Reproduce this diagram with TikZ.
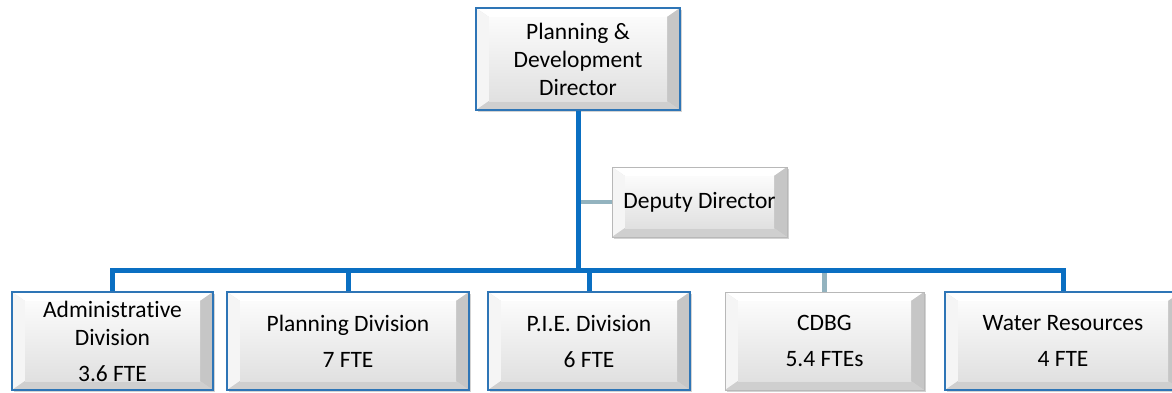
\documentclass[tikz,border=0pt]{standalone}
\usepackage{fontspec}
\setmainfont[Ligatures=NoCommon]{Carlito}
\usetikzlibrary{shadows}
\definecolor{linkblue}{HTML}{0A6FC2}
\definecolor{boxblue}{HTML}{2E75B6}
\definecolor{sublink}{HTML}{93B3BF}
\definecolor{boxgray}{HTML}{B8B8B8}
\newcommand{\boxfont}{\fontsize{23.5}{28}\selectfont}
\tikzset{
  bevel/.style={
    path picture={
      \coordinate (bnw) at (path picture bounding box.north west);
      \coordinate (bne) at (path picture bounding box.north east);
      \coordinate (bsw) at (path picture bounding box.south west);
      \coordinate (bse) at (path picture bounding box.south east);
      \fill[gray!30] (bnw) rectangle (bse);
      \fill[white] (bnw) -- (bne) -- ([shift={(-13pt,-9pt)}]bne) -- ([shift={(13pt,-9pt)}]bnw) -- cycle;
      \fill[gray!8] (bnw) -- ([shift={(13pt,-9pt)}]bnw) -- ([shift={(13pt,9pt)}]bsw) -- (bsw) -- cycle;
      \fill[gray!45] (bne) -- (bse) -- ([shift={(-13pt,9pt)}]bse) -- ([shift={(-13pt,-9pt)}]bne) -- cycle;
      \fill[gray!38] (bsw) -- (bse) -- ([shift={(-13pt,9pt)}]bse) -- ([shift={(13pt,9pt)}]bsw) -- cycle;
      \shade[top color=gray!3, bottom color=gray!24] ([shift={(13pt,-9pt)}]bnw) rectangle ([shift={(-13pt,9pt)}]bse);
    }
  },
  orgbox/.style={bevel, draw=boxblue, line width=1.6pt, inner sep=0pt, align=center,
    font=\boxfont, drop shadow={opacity=0.35, shadow xshift=2pt, shadow yshift=-2pt}},
  greybox/.style={orgbox, draw=boxgray, line width=1pt},
  mainline/.style={draw=linkblue, line width=5pt},
  subline/.style={draw=sublink, line width=4.5pt}
}
\begin{document}
\begin{tikzpicture}[x=1pt,y=-1pt]
\useasboundingbox (0,0) rectangle (1172,392);

\node[orgbox, minimum width=204pt, minimum height=102pt] (dir) at (578,59) {Planning \&\\Development\\Director};
\node[greybox, minimum width=175pt, minimum height=70pt] (deputy) at (699.5,202) {Deputy Director};

\node[orgbox, minimum width=201pt, minimum height=98pt] (admin) at (112.5,341) {Administrative\\Division\\[8pt]3.6 FTE};
\node[orgbox, minimum width=242pt, minimum height=98pt] (plan) at (348,341) {Planning Division\\[8pt]7 FTE};
\node[orgbox, minimum width=202pt, minimum height=98pt] (pie) at (589,341) {P.I.E. Division\\[8pt]6 FTE};
\node[greybox, minimum width=199pt, minimum height=98pt] (cdbg) at (824.5,341) {CDBG\\[8pt]5.4 FTEs};
\node[orgbox, minimum width=236pt, minimum height=98pt] (water) at (1063,341) {Water Resources\\[8pt]4 FTE};

\coordinate (bus) at (578,270);
\draw[subline] (deputy.west) -- (deputy.west -| dir.south);
\draw[subline] (cdbg.north) -- (cdbg.north |- bus);
\draw[mainline] (dir.south) -- (bus);
\draw[mainline] (admin.north) |- (bus) -| (water.north);
\draw[mainline] (plan.north) -- (plan.north |- bus);
\draw[mainline] (pie.north) -- (pie.north |- bus);
\end{tikzpicture}
\end{document}
